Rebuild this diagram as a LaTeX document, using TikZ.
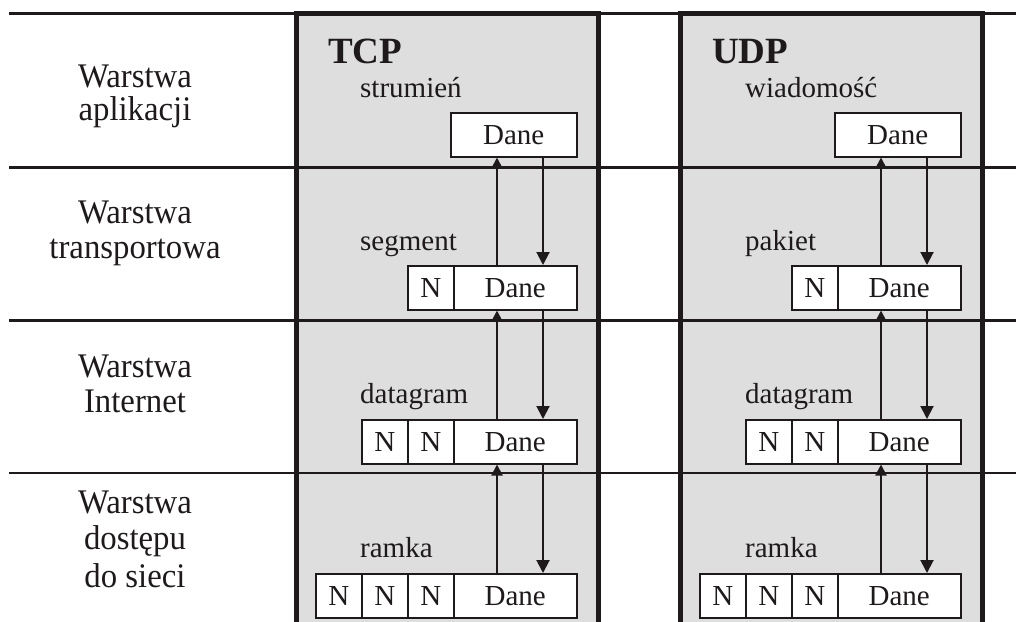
\documentclass[tikz,border=0pt]{standalone}
\usepackage{fontspec}
\setmainfont{Liberation Serif}
\newfontfamily\layerfont[FakeStretch=0.95]{Liberation Serif}
\usetikzlibrary{arrows.meta}
\definecolor{panelgray}{HTML}{DEDEDE}
\definecolor{ink}{HTML}{1E1A1B}
\begin{document}
\begin{tikzpicture}[x=1pt,y=-1pt,
  layer/.style={font=\layerfont\fontsize{34.5}{36}\selectfont, anchor=base, text=ink, inner sep=0},
  unitlab/.style={font=\fontsize{29}{31}\selectfont, anchor=base west, text=ink, inner sep=0},
  proto/.style={font=\fontsize{37}{40}\selectfont\bfseries, anchor=base west, text=ink, inner sep=0},
  cell/.style={draw=ink, line width=1.5pt, fill=white, minimum height=44pt, inner sep=0, font=\fontsize{29}{31}\selectfont, text=ink, anchor=north west},
  ncell/.style={cell, minimum width=46pt},
  dcell/.style={cell, minimum width=123pt},
  acell/.style={cell, minimum width=126pt},
  sep/.style={draw=ink, line width=3pt},
  border/.style={draw=ink, line width=5pt},
  uparr/.style={draw=ink, line width=2pt, -{Triangle[width=11pt,length=11pt]}},
  downarr/.style={draw=ink, line width=2pt, -{Triangle[width=13pt,length=13pt]}},
]
\useasboundingbox (0,0) rectangle (1016,621);

% panels
\fill[panelgray] (296,13) rectangle (598,630);
\fill[panelgray] (680,13) rectangle (982,630);

% layer separators
\draw[sep] (9,13) -- (1016,13);
\draw[sep] (9,167) -- (1016,167);
\draw[sep] (9,320) -- (1016,320);
\draw[sep, line width=2.5pt] (9,473) -- (1016,473);

% panel borders
\draw[border] (296,630) -- (296,13) -- (598,13) -- (598,630);
\draw[border] (680,630) -- (680,13) -- (982,13) -- (982,630);

% layer names
\node[layer] (l1a) at (135,87) {Warstwa};
\node[layer] (l1b) at (135,120) {aplikacji};
\node[layer] (l2a) at (135,223) {Warstwa};
\node[layer] (l2b) at (135,258) {transportowa};
\node[layer] (l3a) at (135,377) {Warstwa};
\node[layer] (l3b) at (135,412) {Internet};
\node[layer] (l4a) at (135,513) {Warstwa};
\node[layer] (l4b) at (135,549) {dostępu};
\node[layer] (l4c) at (135,587) {do sieci};

% ---------- TCP ----------
\node[proto] (tcp) at (328,63) {TCP};
\node[unitlab] (tcpLa) at (360,97) {strumień};
\node[unitlab] (tcpLs) at (360,250) {segment};
\node[unitlab] (tcpLd) at (360,403) {datagram};
\node[unitlab] (tcpLr) at (360,557) {ramka};

\node[acell] (tcpA) at (450,112) {Dane};

\node[ncell] (tcpSn1) at (407,265) {N};
\node[dcell] (tcpS) at (453,265) {Dane};

\node[ncell] (tcpDn1) at (361,419) {N};
\node[ncell] (tcpDn2) at (407,419) {N};
\node[dcell] (tcpD) at (453,419) {Dane};

\node[ncell] (tcpRn1) at (315,573) {N};
\node[ncell] (tcpRn2) at (361,573) {N};
\node[ncell] (tcpRn3) at (407,573) {N};
\node[dcell] (tcpR) at (453,573) {Dane};

\coordinate (tcpU) at (497,0);
\coordinate (tcpW) at (543,0);
\draw[uparr] (tcpS.north -| tcpU) -- (tcpA.south -| tcpU);
\draw[downarr] (tcpA.south -| tcpW) -- (tcpS.north -| tcpW);
\draw[uparr] (tcpD.north -| tcpU) -- (tcpS.south -| tcpU);
\draw[downarr] (tcpS.south -| tcpW) -- (tcpD.north -| tcpW);
\draw[uparr] (tcpR.north -| tcpU) -- (tcpD.south -| tcpU);
\draw[downarr] (tcpD.south -| tcpW) -- (tcpR.north -| tcpW);

% ---------- UDP ----------
\node[proto] (udp) at (712,63) {UDP};
\node[unitlab] (udpLa) at (745,97) {wiadomość};
\node[unitlab] (udpLs) at (745,250) {pakiet};
\node[unitlab] (udpLd) at (745,403) {datagram};
\node[unitlab] (udpLr) at (745,557) {ramka};

\node[acell] (udpA) at (834,112) {Dane};

\node[ncell] (udpSn1) at (791,265) {N};
\node[dcell] (udpS) at (837,265) {Dane};

\node[ncell] (udpDn1) at (745,419) {N};
\node[ncell] (udpDn2) at (791,419) {N};
\node[dcell] (udpD) at (837,419) {Dane};

\node[ncell] (udpRn1) at (699,573) {N};
\node[ncell] (udpRn2) at (745,573) {N};
\node[ncell] (udpRn3) at (791,573) {N};
\node[dcell] (udpR) at (837,573) {Dane};

\coordinate (udpU) at (881,0);
\coordinate (udpW) at (927,0);
\draw[uparr] (udpS.north -| udpU) -- (udpA.south -| udpU);
\draw[downarr] (udpA.south -| udpW) -- (udpS.north -| udpW);
\draw[uparr] (udpD.north -| udpU) -- (udpS.south -| udpU);
\draw[downarr] (udpS.south -| udpW) -- (udpD.north -| udpW);
\draw[uparr] (udpR.north -| udpU) -- (udpD.south -| udpU);
\draw[downarr] (udpD.south -| udpW) -- (udpR.north -| udpW);
\end{tikzpicture}
\end{document}
